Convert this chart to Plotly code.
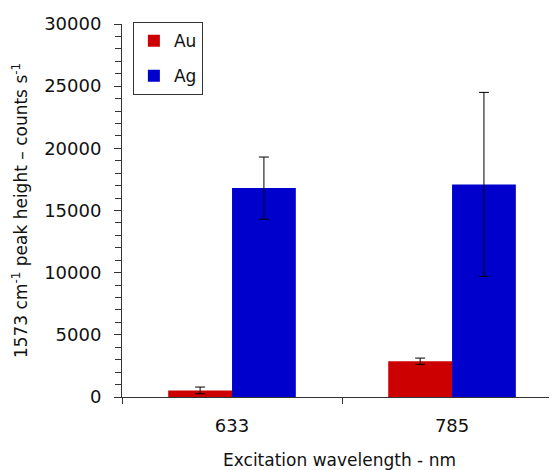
import plotly.graph_objects as go

categories = ["633", "785"]
au_values = [530, 2880]
au_errors = [270, 250]
ag_values = [16800, 17100]
ag_errors = [2500, 7400]

FONT = "DejaVu Sans"
TXT = "#111111"
xpos = [0, 1]

fig = go.Figure()
fig.add_trace(go.Bar(
    x=xpos, y=au_values, name="Au", legendgroup="au",
    marker=dict(color="#CC0000", line=dict(width=0)),
    error_y=dict(type="data", array=au_errors, color="#000000", thickness=1, width=5),
))
fig.add_trace(go.Bar(
    x=xpos, y=ag_values, name="Ag", legendgroup="ag",
    marker=dict(color="#0000CC", line=dict(width=0)),
    error_y=dict(type="data", array=ag_errors, color="#000000", thickness=1, width=5),
))

fig.update_layout(
    width=549, height=462,
    margin=dict(l=114, r=0, t=16, b=73),
    paper_bgcolor="white", plot_bgcolor="white",
    barmode="group", bargap=0.42, bargroupgap=0,
    font=dict(family=FONT, color=TXT, size=17),
    showlegend=True,
    legend=dict(
        x=0.025, y=1.005, xanchor="left", yanchor="top",
        bordercolor="#333333", borderwidth=1, bgcolor="white",
        font=dict(family=FONT, size=17, color=TXT),
        itemwidth=30, tracegroupgap=10,
    ),
    xaxis=dict(
        range=[-0.5, 1.477], automargin=False,
        tickvals=xpos, ticktext=categories,
        ticks="", showgrid=False, zeroline=False,
        showline=True, linecolor="#333333", linewidth=1,
        tickfont=dict(family=FONT, size=18, color=TXT),
        ticklabelstandoff=12,
        minor=dict(tickvals=[-0.5, 0.5], ticks="outside", ticklen=6,
                   tickcolor="#333333", tickwidth=1, showgrid=False),
        title=dict(text="Excitation wavelength - nm",
                   font=dict(family=FONT, size=17, color=TXT), standoff=21),
        fixedrange=True,
    ),
    yaxis=dict(
        range=[0, 30000], dtick=5000, tick0=0, tickformat="d",
        automargin=False,
        ticks="outside", ticklen=7, tickcolor="#333333", tickwidth=1,
        showgrid=False, zeroline=False,
        showline=True, linecolor="#333333", linewidth=1,
        tickfont=dict(family=FONT, size=18, color=TXT),
        ticklabelstandoff=9,
        minor=dict(dtick=1000, ticks="outside", ticklen=6,
                   tickcolor="#333333", tickwidth=1, showgrid=False),
        title=dict(text="1573 cm<sup>-1</sup> peak height \u2013 counts s<sup>-1</sup>",
                   font=dict(family=FONT, size=17, color=TXT), standoff=12),
        fixedrange=True,
    ),
)

fig.write_html("out.html")
